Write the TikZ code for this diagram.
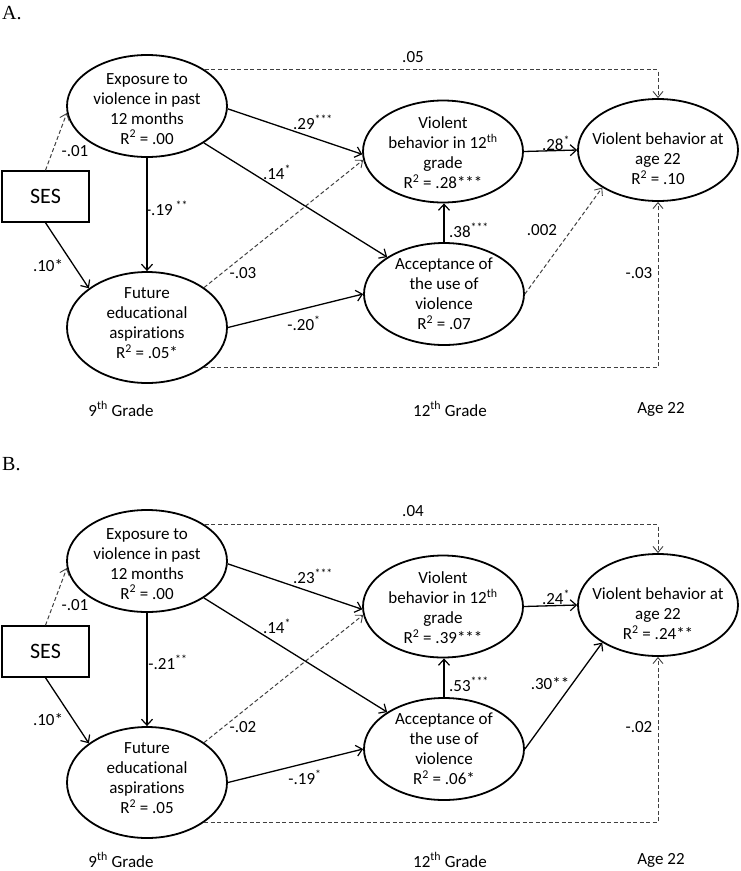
\documentclass[tikz,border=0pt]{standalone}
\usepackage{fontspec}
\setmainfont[Ligatures=NoCommon]{Carlito}
\newfontfamily\serifA{Liberation Serif}
\usetikzlibrary{arrows.meta,shapes.geometric}
\newcommand\vtext[2][0pt]{\makebox[0pt]{\smash{\raisebox{#1}{\begin{tabular}{@{}c@{}}#2\end{tabular}}}}}
\begin{document}
\begin{tikzpicture}[x=1pt,y=-1pt,
  var/.style={ellipse, draw, line width=1.8pt, minimum width=160pt, minimum height=102pt, inner sep=0pt, font=\fontsize{17}{20}\selectfont},
  obs/.style={draw, line width=1.5pt, minimum width=87pt, minimum height=51pt, inner sep=0pt, font=\fontsize{22}{26}\selectfont},
  sig/.style={line width=1.3pt, -{Straight Barb[length=6pt,width=11pt,line width=1.2pt]}},
  nsig/.style={line width=1pt, black!75, dash pattern=on 4pt off 2.5pt, -{Straight Barb[length=6pt,width=10pt,line width=0.9pt]}},
  lab/.style={font=\fontsize{17}{20}\selectfont, inner sep=0pt},
  plab/.style={font=\serifA\fontsize{20}{22}\selectfont, inner sep=0pt, anchor=west},
]
\useasboundingbox (0,0) rectangle (740,871);

% ---------------- Panel A ----------------
\node[plab] (alab) at (2,13) {A.};
\node[var] (aexp) at (147,106) {\vtext[-8.5pt]{Exposure to\\violence in past\\12 months\\R\textsuperscript{2} = .00}};
\node[obs] (ases) at (45.5,196.5) {SES};
\node[var, minimum height=111pt] (afut) at (147,327.5) {\vtext[-1.5pt]{Future\\educational\\aspirations\\R\textsuperscript{2} = .05*}};
\node[var] (av12) at (443,151.5) {\vtext[-7.5pt]{Violent\\behavior in 12\textsuperscript{th}\\grade\\R\textsuperscript{2} = .28***}};
\node[var] (aage) at (658,150) {\vtext[-15pt]{Violent behavior at\\age 22\\R\textsuperscript{2} = .10}};
\node[var] (aacc) at (444,294) {\vtext[-6pt]{Acceptance of\\the use of\\violence\\R\textsuperscript{2} = .07}};

\draw[nsig] (aexp.32) -- (aexp.32 -| aage.north) -- (aage.north);
\draw[nsig] (ases.north) -- (aexp.185);
\draw[sig] (ases.south) -- (afut.146);
\draw[sig] (aexp.south) -- (afut.north);
\draw[sig] (aexp.-2) -- (av12.182);
\draw[sig] (aexp.-33) -- (aacc.147);
\draw[nsig] (afut.35) -- (av12.186);
\draw[sig] (afut.east) -- (aacc.west);
\draw[sig] (aacc.north) -- (aacc.north |- av12.south);
\draw[sig] (av12.east) -- (aage.west);
\draw[nsig] (aacc.east) -- (aage.214);
\draw[nsig] (afut.-35) -- (afut.-35 -| aage.south) -- (aage.south);

\node[lab] (al1) at (413,57) {.05};
\node[lab] (al2) at (75,151) {-.01};
\node[lab] (al3) at (48,266) {.10*};
\node[lab] (al4) at (167,208) {-.19\,\textsuperscript{**}};
\node[lab] (al5) at (313,122) {.29\textsuperscript{***}};
\node[lab] (al6) at (277,172) {.14\textsuperscript{*}};
\node[lab] (al7) at (243,273) {-.03};
\node[lab] (al8) at (304,323) {-.20\textsuperscript{*}};
\node[lab] (al9) at (469,230) {.38\textsuperscript{***}};
\node[lab] (al10) at (542,230) {.002};
\node[lab] (al11) at (639,273) {-.03};
\node[lab] (al12) at (556,143) {.28\textsuperscript{*}};
\node[lab] (ag1) at (121,409) {9\textsuperscript{th} Grade};
\node[lab] (ag2) at (450,409) {12\textsuperscript{th} Grade};
\node[lab] (ag3) at (661,409) {Age 22};

% ---------------- Panel B ----------------
\node[plab] (blab) at (2,464) {B.};
\node[var] (bexp) at (147,561) {\vtext[-8.5pt]{Exposure to\\violence in past\\12 months\\R\textsuperscript{2} = .00}};
\node[obs] (bses) at (45.5,651.5) {SES};
\node[var, minimum height=111pt] (bfut) at (147,782.5) {\vtext[-1.5pt]{Future\\educational\\aspirations\\R\textsuperscript{2} = .05}};
\node[var] (bv12) at (443,606.5) {\vtext[-7.5pt]{Violent\\behavior in 12\textsuperscript{th}\\grade\\R\textsuperscript{2} = .39***}};
\node[var] (bage) at (658,605) {\vtext[-15pt]{Violent behavior at\\age 22\\R\textsuperscript{2} = .24**}};
\node[var] (bacc) at (444,749) {\vtext[-6pt]{Acceptance of\\the use of\\violence\\R\textsuperscript{2} = .06*}};

\draw[nsig] (bexp.32) -- (bexp.32 -| bage.north) -- (bage.north);
\draw[nsig] (bses.north) -- (bexp.185);
\draw[sig] (bses.south) -- (bfut.146);
\draw[sig] (bexp.south) -- (bfut.north);
\draw[sig] (bexp.-2) -- (bv12.182);
\draw[sig] (bexp.-33) -- (bacc.147);
\draw[nsig] (bfut.35) -- (bv12.186);
\draw[sig] (bfut.east) -- (bacc.west);
\draw[sig] (bacc.north) -- (bacc.north |- bv12.south);
\draw[sig] (bv12.east) -- (bage.west);
\draw[sig] (bacc.east) -- (bage.214);
\draw[nsig] (bfut.-35) -- (bfut.-35 -| bage.south) -- (bage.south);

\node[lab] (bl1) at (413,511) {.04};
\node[lab] (bl2) at (75,605) {-.01};
\node[lab] (bl3) at (48,720) {.10*};
\node[lab] (bl4) at (168,662) {-.21\textsuperscript{**}};
\node[lab] (bl5) at (313,576) {.23\textsuperscript{***}};
\node[lab] (bl6) at (277,626) {.14\textsuperscript{*}};
\node[lab] (bl7) at (243,727) {-.02};
\node[lab] (bl8) at (305,777) {-.19\textsuperscript{*}};
\node[lab] (bl9) at (469,684) {.53\textsuperscript{***}};
\node[lab] (bl10) at (550,684) {.30**};
\node[lab] (bl11) at (639,727) {-.02};
\node[lab] (bl12) at (556,597) {.24\textsuperscript{*}};
\node[lab] (bg1) at (121,860) {9\textsuperscript{th} Grade};
\node[lab] (bg2) at (450,860) {12\textsuperscript{th} Grade};
\node[lab] (bg3) at (661,860) {Age 22};
\end{tikzpicture}
\end{document}
